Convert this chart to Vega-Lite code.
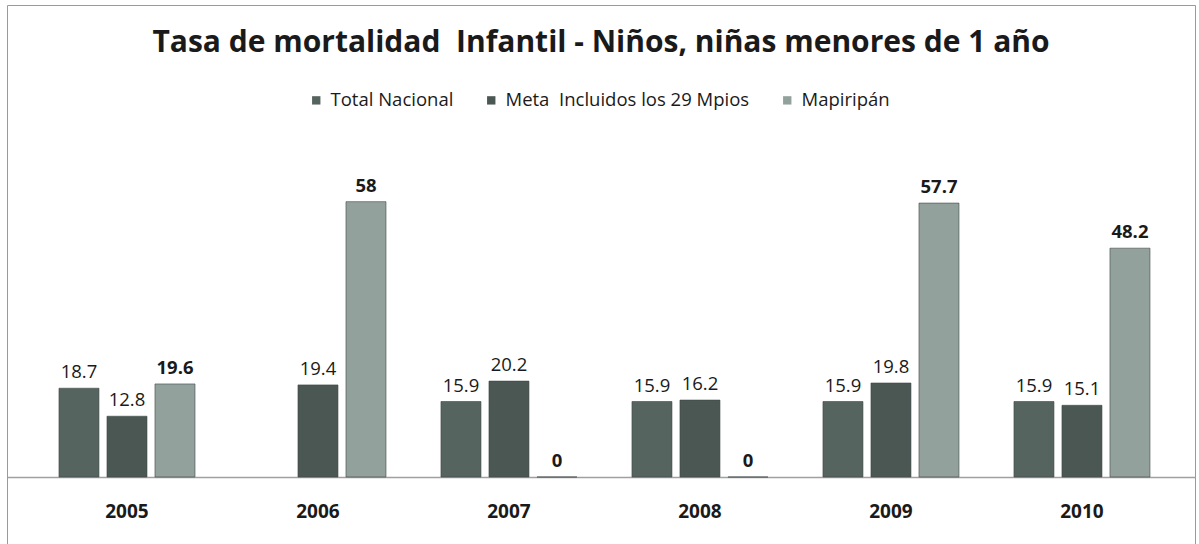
{
  "$schema": "https://vega.github.io/schema/vega-lite/v6.json",
  "autosize": {"type": "none"},
  "padding": {"left": 7, "top": 5, "right": 4, "bottom": 0},
  "width": 1188,
  "height": 545,
  "background": "white",
  "config": {
    "view": {"stroke": "#9a9a9a", "strokeWidth": 1},
    "font": "Open Sans"
  },
  "title": {
    "text": "Tasa de mortalidad\u00a0 Infantil - Niños, niñas menores de 1 año",
    "font": "Open Sans",
    "fontSize": 30,
    "fontWeight": "bold",
    "color": "#1a1a1a",
    "anchor": "middle",
    "offset": -68,
    "baseline": "middle"
  },
  "data": {
    "values": [
      {"year": "2005", "serie": "Total Nacional", "value": 18.7},
      {"year": "2005", "serie": "Meta\u00a0 Incluidos los 29 Mpios", "value": 12.8},
      {"year": "2005", "serie": "Mapiripán", "value": 19.6},
      {"year": "2006", "serie": "Total Nacional", "value": null},
      {"year": "2006", "serie": "Meta\u00a0 Incluidos los 29 Mpios", "value": 19.4},
      {"year": "2006", "serie": "Mapiripán", "value": 58},
      {"year": "2007", "serie": "Total Nacional", "value": 15.9},
      {"year": "2007", "serie": "Meta\u00a0 Incluidos los 29 Mpios", "value": 20.2},
      {"year": "2007", "serie": "Mapiripán", "value": 0},
      {"year": "2008", "serie": "Total Nacional", "value": 15.9},
      {"year": "2008", "serie": "Meta\u00a0 Incluidos los 29 Mpios", "value": 16.2},
      {"year": "2008", "serie": "Mapiripán", "value": 0},
      {"year": "2009", "serie": "Total Nacional", "value": 15.9},
      {"year": "2009", "serie": "Meta\u00a0 Incluidos los 29 Mpios", "value": 19.8},
      {"year": "2009", "serie": "Mapiripán", "value": 57.7},
      {"year": "2010", "serie": "Total Nacional", "value": 15.9},
      {"year": "2010", "serie": "Meta\u00a0 Incluidos los 29 Mpios", "value": 15.1},
      {"year": "2010", "serie": "Mapiripán", "value": 48.2}
    ]
  },
  "encoding": {
    "x": {
      "field": "year", "type": "nominal",
      "scale": {"paddingInner": 0.246, "paddingOuter": 0.233, "align": 0.539},
      "axis": {
        "title": null, "orient": "bottom", "offset": -73,
        "labelAngle": 0, "labelFontSize": 19, "labelFontWeight": "bold",
        "labelColor": "#1a1a1a", "labelFont": "Open Sans", "labelPadding": 25,
        "ticks": false, "domain": true, "domainColor": "#a0a0a0", "domainWidth": 1.5,
        "grid": false
      }
    },
    "xOffset": {
      "field": "serie", "type": "nominal",
      "scale": {"domain": ["Total Nacional", "Meta\u00a0 Incluidos los 29 Mpios", "Mapiripán"], "paddingInner": 0.1667, "paddingOuter": 0.0833}
    },
    "y": {
      "field": "value", "type": "quantitative",
      "scale": {"domain": [-15.38, 99.43], "nice": false, "zero": false},
      "axis": null
    }
  },
  "layer": [
    {
      "mark": {"type": "bar", "stroke": "#3e4644", "strokeWidth": 0.6},
      "encoding": {
        "color": {
          "field": "serie", "type": "nominal",
          "scale": {"domain": ["Total Nacional", "Meta\u00a0 Incluidos los 29 Mpios", "Mapiripán"], "range": ["#56645f", "#4b5753", "#93a19c"]},
          "legend": {
            "title": null, "orient": "none", "direction": "horizontal",
            "legendX": 300, "legendY": 86,
            "symbolType": "square", "symbolSize": 70, "symbolStrokeWidth": 0,
            "labelFontSize": 18.5, "labelFont": "Open Sans", "labelColor": "#1a1a1a",
            "labelLimit": 0, "columnPadding": 28, "labelOffset": 5
          }
        }
      }
    },
    {
      "transform": [{"filter": "datum.serie !== 'Mapiripán'"}],
      "mark": {"type": "text", "baseline": "alphabetic", "dy": -10, "fontSize": 18.5, "font": "Open Sans", "color": "#1a1a1a"},
      "encoding": {"text": {"field": "value", "type": "quantitative", "format": ".1f"}}
    },
    {
      "transform": [{"filter": "datum.serie === 'Mapiripán'"}],
      "mark": {"type": "text", "baseline": "alphabetic", "dy": -10, "fontSize": 18.5, "fontWeight": "bold", "font": "Open Sans", "color": "#1a1a1a"},
      "encoding": {"text": {"field": "value", "type": "quantitative"}}
    }
  ]
}
